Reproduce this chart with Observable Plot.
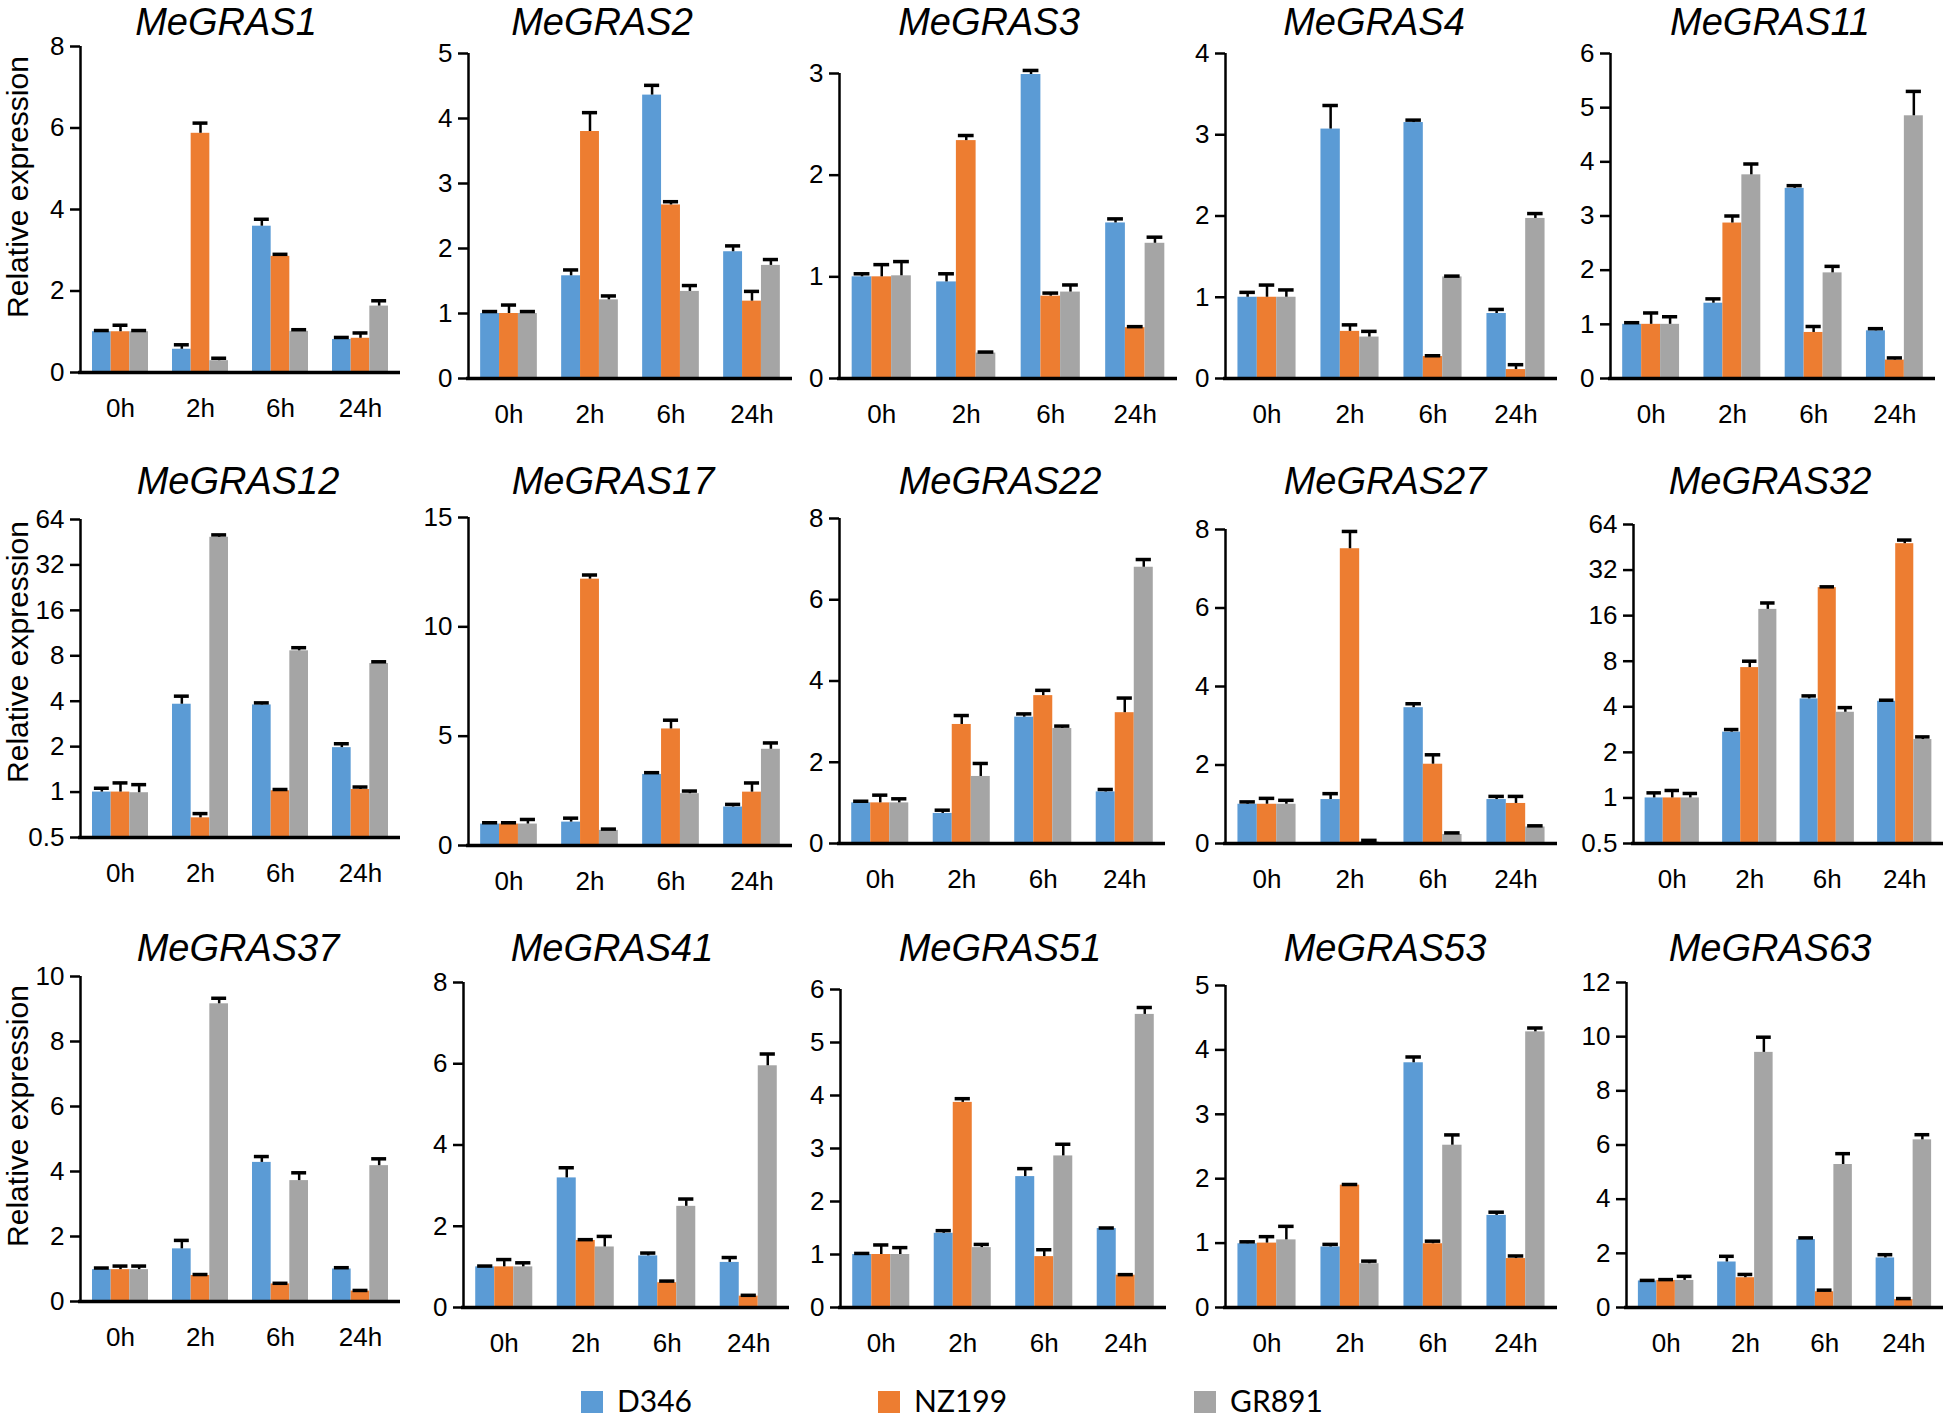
<!DOCTYPE html>
<html>
<head>
<meta charset="utf-8">
<script src="https://cdn.jsdelivr.net/npm/d3@7"></script>
<script src="https://cdn.jsdelivr.net/npm/@observablehq/plot@0.6"></script>
<style>
  html, body { margin: 0; padding: 0; background: #fff; }
  #fig { position: relative; width: 1946px; height: 1417px; overflow: hidden;
         font-family: "Liberation Sans", Arial, sans-serif; color: #000; }
  .panel { position: absolute; overflow: visible; }
  .title { position: absolute; font-style: italic; font-size: 38px; line-height: 1;
           white-space: nowrap; transform: translateX(-50%); }
  .ylab { position: absolute; font-size: 30px; line-height: 1; white-space: nowrap;
          transform: translate(-50%, -50%) rotate(-90deg); }
  .lg-sw { position: absolute; width: 22px; height: 22px; }
  .lg-tx { position: absolute; font-family: Lato, "Open Sans", sans-serif; font-size: 30px;
           line-height: 0.9; white-space: nowrap; }
</style>
</head>
<body>
<div id="fig"></div>
<script>
// ---------------- data ----------------
const genes = ["MeGRAS1","MeGRAS2","MeGRAS3","MeGRAS4","MeGRAS11",
               "MeGRAS12","MeGRAS17","MeGRAS22","MeGRAS27","MeGRAS32",
               "MeGRAS37","MeGRAS41","MeGRAS51","MeGRAS53","MeGRAS63"];
const times = ["0h","2h","6h","24h"];
const cultivars = ["D346","NZ199","GR891"];

// relative expression (mean) per gene, per time point
const D346 = [
  [1.00,0.57,3.59,0.81],[1.00,1.58,4.36,1.95],[1.00,0.95,2.99,1.53],[1.00,3.07,3.15,0.80],[1.00,1.39,3.51,0.88],
  [1.00,3.82,3.78,1.97],[0.98,1.07,3.25,1.76],[1.00,0.74,3.11,1.27],[1.00,1.12,3.46,1.12],[1.00,2.72,4.51,4.35],
  [0.98,1.62,4.28,1.00],[1.00,3.19,1.27,1.11],[1.00,1.40,2.47,1.49],[0.99,0.94,3.80,1.43],[0.98,1.68,2.51,1.83]
];
const NZ199 = [
  [1.00,5.87,2.85,0.84],[1.00,3.80,2.67,1.19],[1.00,2.34,0.81,0.50],[1.00,0.58,0.27,0.11],[1.00,2.87,0.85,0.34],
  [1.00,0.675,1.02,1.04],[0.98,12.18,5.33,2.44],[1.00,2.93,3.64,3.22],[1.00,7.51,2.02,1.02],[1.00,7.26,24.5,47.8],
  [0.98,0.80,0.54,0.32],[1.00,1.65,0.61,0.28],[1.00,3.87,0.96,0.61],[1.00,1.90,0.99,0.76],[1.00,1.10,0.58,0.29]
];
const GR891 = [
  [1.00,0.29,1.01,1.63],[1.00,1.21,1.34,1.74],[1.01,0.25,0.85,1.33],[1.00,0.51,1.25,1.97],[1.00,3.76,1.95,4.85],
  [0.99,48.8,8.63,7.11],[0.98,0.69,2.37,4.40],[1.00,1.65,2.83,6.80],[1.00,0.04,0.23,0.42],[1.00,17.6,3.68,2.43],
  [0.98,9.16,3.72,4.18],[1.00,1.49,2.49,5.95],[1.00,1.13,2.86,5.53],[1.05,0.68,2.52,4.28],[1.00,9.42,5.28,6.19]
];
// upper error bars
const D346err = [
  [0.03,0.11,0.17,0.05],[0.03,0.09,0.15,0.09],[0.03,0.08,0.04,0.04],[0.06,0.29,0.03,0.05],[0.03,0.08,0.05,0.04],
  [0.06,0.50,0.12,0.12],[0.06,0.18,0.08,0.12],[0.04,0.08,0.08,0.06],[0.06,0.15,0.10,0.08],[0.08,0.11,0.21,0.07],
  [0.05,0.26,0.18,0.04],[0.02,0.25,0.07,0.12],[0.02,0.05,0.15,0.01],[0.03,0.04,0.09,0.05],[0.02,0.21,0.06,0.12]
];
const NZ199err = [
  [0.16,0.25,0.05,0.13],[0.13,0.29,0.05,0.15],[0.12,0.05,0.03,0.01],[0.15,0.08,0.01,0.06],[0.21,0.13,0.11,0.04],
  [0.15,0.045,0.02,0.04],[0.06,0.19,0.40,0.42],[0.19,0.22,0.13,0.36],[0.15,0.44,0.24,0.18],[0.12,0.74,0.30,2.70],
  [0.11,0.03,0.02,0.02],[0.18,0.02,0.04,0.02],[0.18,0.07,0.13,0.01],[0.10,0.01,0.04,0.04],[0.03,0.12,0.06,0.04]
];
const GR891err = [
  [0.03,0.06,0.04,0.13],[0.03,0.06,0.09,0.09],[0.14,0.01,0.07,0.06],[0.09,0.07,0.01,0.06],[0.14,0.20,0.12,0.45],
  [0.13,1.80,0.42,0.19],[0.21,0.06,0.12,0.29],[0.10,0.32,0.06,0.19],[0.10,0.04,0.04,0.03],[0.07,1.80,0.27,0.10],
  [0.11,0.17,0.24,0.21],[0.10,0.26,0.18,0.29],[0.13,0.06,0.22,0.13],[0.21,0.04,0.16,0.06],[0.15,0.56,0.40,0.19]
];
// y-axis tick labels per gene
const yTicks = [
  [0,2,4,6,8],[0,1,2,3,4,5],[0,1,2,3],[0,1,2,3,4],[0,1,2,3,4,5,6],
  [0.5,1,2,4,8,16,32,64],[0,5,10,15],[0,2,4,6,8],[0,2,4,6,8],[0.5,1,2,4,8,16,32,64],
  [0,2,4,6,8,10],[0,2,4,6,8],[0,1,2,3,4,5,6],[0,1,2,3,4,5],[0,2,4,6,8,10,12]
];
const logGenes = ["MeGRAS12","MeGRAS32"];
const yLabel = "Relative expression";

// ---------------- layout & style ----------------
const colors = ["#5B9BD5","#ED7D31","#A5A5A5"];
const axisX  = [80,468,839,1225,1610, 80,468,839,1225,1633, 80,463,840,1225,1626];
const plotW  = [320,324,338,332,325, 320,324,326,332,310, 320,326,326,332,317];
const axisTop = [46,53,73,53,53, 519,517,518,529,524, 976,982,989,985,982];
const axisBot = [372,378,378,378,378, 837,845,843,843,843, 1301,1307,1307,1307,1307];
const titleX = [226,602,989,1374,1770, 238,613,1000,1385,1770, 238,612,1000,1385,1770];
const titleTop = [3, 462, 929];
const yLabelPos = [[18,187],[18,652],[18,1116]];
const legendX = [581, 878, 1194];
const legendTextDX = 36;
const ML = 62, MR = 6, MT = 16, MB = 56;
const xDomain = [-0.5, 3.5];
const groupWidth = 0.7;
const capFrac = 0.4;
const tickFont = 26;

const fig = document.getElementById("fig");
const series = {D346, NZ199, GR891};
const errs = {D346: D346err, NZ199: NZ199err, GR891: GR891err};

genes.forEach((gene, i) => {
  const ticks = yTicks[i];
  const isLog = logGenes.includes(gene);
  const yMin = ticks[0], yMax = ticks[ticks.length - 1];
  const bw = groupWidth / cultivars.length;
  const rows = [];
  cultivars.forEach((c, j) => times.forEach((t, k) => {
    const x1 = k - groupWidth / 2 + j * bw;
    const v = series[c][i][k];
    rows.push({gene, time: t, cultivar: c, x1, x2: x1 + bw, xc: x1 + bw / 2,
               value: v, top: v + errs[c][i][k]});
  }));

  const h = axisBot[i] - axisTop[i];
  const svg = Plot.plot({
    width: ML + plotW[i] + MR,
    height: h + MT + MB,
    marginLeft: ML, marginRight: MR, marginTop: MT, marginBottom: MB,
    style: {fontFamily: '"Liberation Sans", Arial, sans-serif', color: "#000",
            background: "transparent", overflow: "visible"},
    x: {domain: xDomain},
    y: isLog ? {type: "log", base: 2, domain: [yMin, yMax]} : {domain: [yMin, yMax]},
    color: {domain: cultivars, range: colors},
    marks: [
      Plot.rect(rows, {x1: "x1", x2: "x2", y1: () => yMin, y2: "value", fill: "cultivar"}),
      Plot.ruleX(rows, {x: "xc", y1: "value", y2: "top", stroke: "#000", strokeWidth: 2.5}),
      Plot.ruleY(rows, {y: "top", x1: d => d.xc - bw * capFrac, x2: d => d.xc + bw * capFrac,
                        stroke: "#000", strokeWidth: 3.5}),
      Plot.ruleX([xDomain[0]], {y1: yMin, y2: yMax, stroke: "#000", strokeWidth: 2.5}),
      Plot.ruleY([yMin], {stroke: "#000", strokeWidth: 3.5, insetLeft: -2}),
      Plot.axisY({ticks, tickSize: 10, tickPadding: 6, strokeWidth: 2.5, fontSize: tickFont, label: null,
                  tickFormat: d => String(d)}),
      Plot.axisX({ticks: times.map((t, k) => k), tickFormat: k => times[k], tickSize: 0,
                  tickPadding: 26, fontSize: tickFont, label: null})
    ]
  });
  svg.classList.add("panel");
  svg.style.left = (axisX[i] - ML) + "px";
  svg.style.top = (axisTop[i] - MT) + "px";
  fig.appendChild(svg);

  const row = Math.floor(i / 5);
  const t = document.createElement("div");
  t.className = "title";
  t.textContent = gene;
  t.style.left = titleX[i] + "px";
  t.style.top = titleTop[row] + "px";
  fig.appendChild(t);

  if (i % 5 === 0) {
    const yl = document.createElement("div");
    yl.className = "ylab";
    yl.textContent = yLabel;
    yl.style.left = yLabelPos[row][0] + "px";
    yl.style.top = yLabelPos[row][1] + "px";
    fig.appendChild(yl);
  }
});

// legend
cultivars.forEach((c, j) => {
  const sw = document.createElement("div");
  sw.className = "lg-sw";
  sw.style.background = colors[j];
  sw.style.left = legendX[j] + "px";
  sw.style.top = "1391px";
  fig.appendChild(sw);
  const tx = document.createElement("div");
  tx.className = "lg-tx";
  tx.textContent = c;
  tx.style.left = (legendX[j] + legendTextDX) + "px";
  tx.style.top = "1387px";
  fig.appendChild(tx);
});
</script>
</body>
</html>
